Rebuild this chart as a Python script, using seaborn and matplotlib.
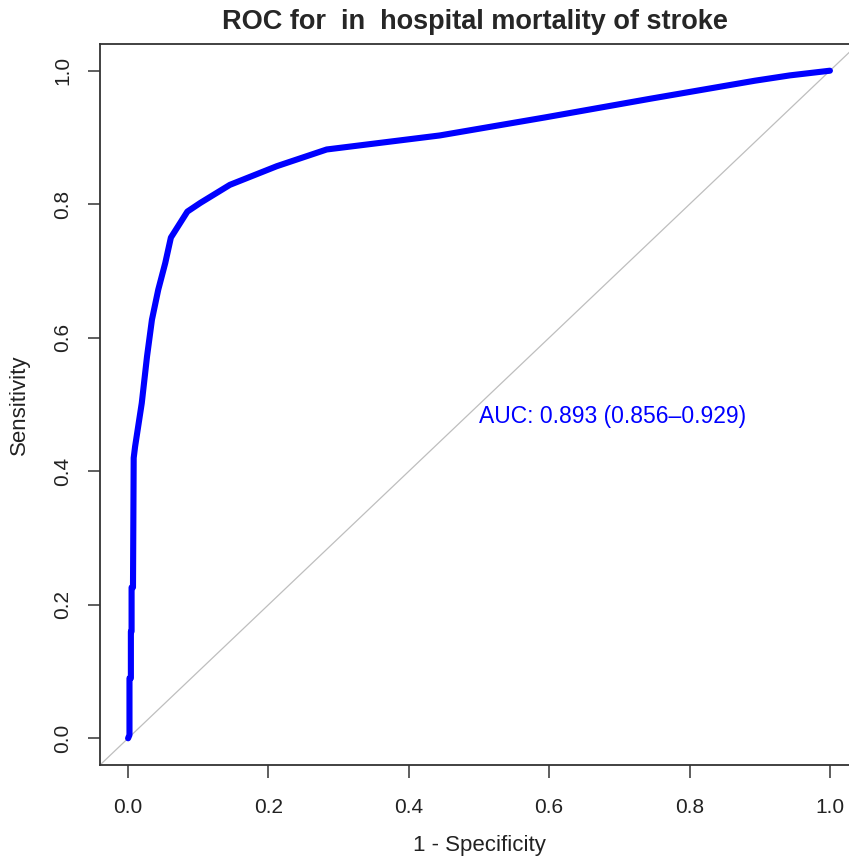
import matplotlib
matplotlib.use("Agg")
import matplotlib.pyplot as plt
import seaborn as sns
import pandas as pd

# ROC curve points (1 - specificity, sensitivity)
fpr = [0.0, 0.002, 0.002, 0.004, 0.004, 0.005, 0.005, 0.007, 0.008, 0.010,
       0.0195, 0.027, 0.034, 0.043, 0.053, 0.061, 0.0845, 0.103, 0.145, 0.212,
       0.283, 0.444, 0.594, 0.744, 0.893, 0.943, 1.0]
tpr = [0.0, 0.005, 0.09, 0.09, 0.16, 0.16, 0.226, 0.226, 0.42, 0.437,
       0.502, 0.572, 0.627, 0.672, 0.712, 0.75, 0.789, 0.802, 0.829, 0.857,
       0.882, 0.903, 0.930, 0.958, 0.985, 0.993, 1.0]
ticks = [0.0, 0.2, 0.4, 0.6, 0.8, 1.0]
tick_labels = ["0.0", "0.2", "0.4", "0.6", "0.8", "1.0"]
title = "ROC for  in  hospital mortality of stroke"
auc_text = "AUC: 0.893 (0.856\u20130.929)"

sns.set_style("white")
plt.rcParams['font.family'] = ['Liberation Sans', 'DejaVu Sans']

df = pd.DataFrame({"fpr": fpr, "tpr": tpr})

fig = plt.figure(figsize=(8.49, 8.59), dpi=100)
ax = fig.add_axes([100/849, 94/859, 758/849, 721/859])

ax.axline((0, 0), (1, 1), color="#BEBEBE", lw=0.9, zorder=1)
sns.lineplot(data=df, x="fpr", y="tpr", sort=False, estimator=None,
             color="#0000FF", lw=4.4, ax=ax, zorder=3)

ax.set_xlim(-0.04, 1.04)
ax.set_ylim(-0.04, 1.04)
ax.set_xticks(ticks)
ax.set_xticklabels(tick_labels)
ax.set_yticks(ticks)
ax.set_yticklabels(tick_labels, rotation=90, va="center")

for s in ax.spines.values():
    s.set_visible(True)
    s.set_color("#333333")
    s.set_linewidth(1.3)

ax.tick_params(axis="both", direction="out", length=9, width=1.1,
               bottom=True, left=True, top=False, right=False,
               colors="#333333", labelsize=15, labelcolor="#222222")
ax.tick_params(axis="x", pad=14.5)
ax.tick_params(axis="y", pad=11)

ax.set_xlabel("1 - Specificity", fontsize=16, color="#222222", labelpad=13)
ax.set_ylabel("Sensitivity", fontsize=16, color="#222222", labelpad=16.5)
ax.set_title(title, fontsize=19.5, fontweight="bold", pad=10.5, x=0.5 - 4/758)

ax.text(0.5, 0.5, auc_text, color="#0000FF", fontsize=16.5, ha="left", va="top")

fig.savefig("out.png", dpi=100)
